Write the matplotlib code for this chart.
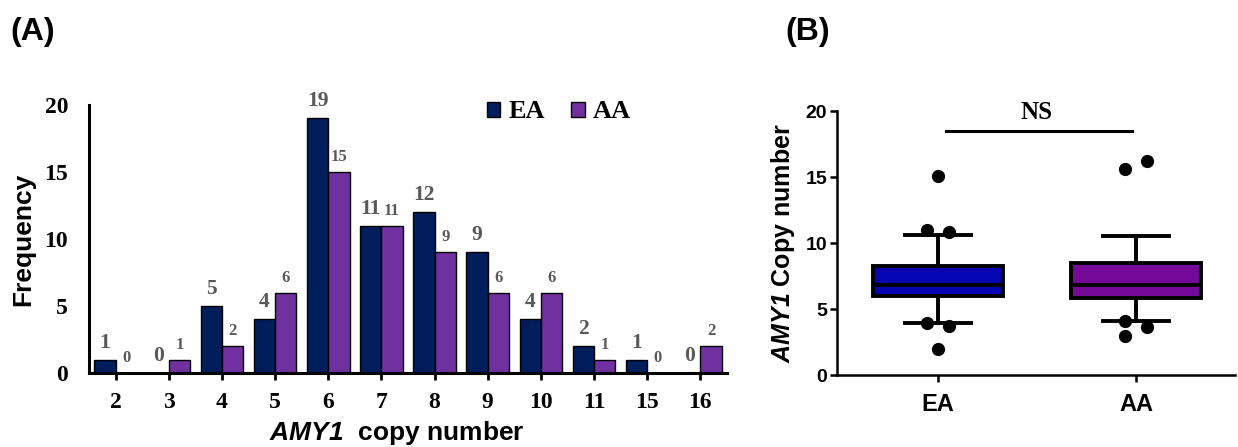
import matplotlib
matplotlib.use("Agg")
import matplotlib.pyplot as plt
from matplotlib.patches import Patch
import numpy as np

plt.rcParams['mathtext.fontset'] = 'custom'
plt.rcParams['mathtext.rm'] = 'Liberation Sans:italic:bold'
plt.rcParams['mathtext.it'] = 'Liberation Sans:italic:bold'

# ---------------- data ----------------
copy_numbers = ["2", "3", "4", "5", "6", "7", "8", "9", "10", "11", "15", "16"]
ea_freq = [1, 0, 5, 4, 19, 11, 12, 9, 4, 2, 1, 0]
aa_freq = [0, 1, 2, 6, 15, 11, 9, 6, 6, 1, 0, 2]

groups = ["EA", "AA"]
box_q1 = [5.95, 5.85]
box_med = [6.85, 6.8]
box_q3 = [8.25, 8.45]
whisk_lo = [3.97, 4.1]
whisk_hi = [10.6, 10.55]
ea_outliers = [15.1, 11.0, 10.8, 3.95, 3.7, 2.0]
aa_outliers = [15.6, 16.2, 4.1, 3.6, 2.95]
ns_level = 18.5

# ---------------- style ----------------
W, H = 1238, 447
c_ea = "#001d5c"
c_aa = "#7030a0"
box_cols = ["#0505b4", "#760a98"]
lbl_gray = "#595959"
ea_off = [0.0, -0.055, 0.055, -0.055, 0.055, 0.0]
aa_off = [-0.055, 0.055, -0.055, 0.055, -0.055]

fig = plt.figure(figsize=(W / 100, H / 100), dpi=100)

def fax(l, t, r, b):
    return fig.add_axes([l / W, 1 - b / H, (r - l) / W, (b - t) / H])

serif = "Liberation Serif"
sans = "Liberation Sans"

# ---------------- panel A ----------------
ax = fax(89, 105, 727, 373)
x = np.arange(len(copy_numbers))
bw = 0.4
ax.bar(x - bw / 2, ea_freq, bw, color=c_ea, edgecolor="black", linewidth=1.0, zorder=2)
ax.bar(x + bw / 2, aa_freq, bw, color=c_aa, edgecolor="black", linewidth=1.0, zorder=2)
for xi, v in zip(x, ea_freq):
    ax.annotate(str(v), (xi - bw / 2, v), xytext=(0, 5), textcoords="offset points",
                ha="center", va="bottom", fontsize=15.5, fontweight="bold",
                family=serif, color=lbl_gray)
for xi, v in zip(x, aa_freq):
    ax.annotate(str(v), (xi + bw / 2, v), xytext=(0, 5), textcoords="offset points",
                ha="center", va="bottom", fontsize=12, fontweight="bold",
                family=serif, color=lbl_gray)
ax.set_xlim(-0.5, 11.5)
ax.set_ylim(0, 20)
ax.set_xticks(x)
ax.set_xticklabels(copy_numbers, family=serif, fontweight="bold", fontsize=17)
ax.set_yticks([0, 5, 10, 15, 20])
ax.set_yticklabels(["0", "5", "10", "15", "20"], family=serif, fontweight="bold", fontsize=17)
ax.tick_params(axis="y", length=0, pad=15)
ax.tick_params(axis="x", direction="out", length=5, width=2, pad=9)
for s in ["top", "right"]:
    ax.spines[s].set_visible(False)
ax.spines["left"].set_linewidth(2.2)
ax.spines["bottom"].set_linewidth(2.2)
ax.set_xlabel(r"$\mathrm{AMY1}$  copy number", family=sans, fontweight="bold",
              fontsize=19, labelpad=6)
ax.xaxis.set_label_coords(0.482, -0.17)
ax.xaxis.label.set_va("top")
ax.set_ylabel("Frequency", family=sans, fontweight="bold", fontsize=19)
ax.yaxis.set_label_coords(-0.084, 0.5)
handles = [Patch(facecolor=c_ea, edgecolor="black", label="EA"),
           Patch(facecolor=c_aa, edgecolor="black", label="AA")]
ax.legend(handles=handles, loc="center", bbox_to_anchor=(559 / W, 1 - 112 / H),
          bbox_transform=fig.transFigure, ncol=2, frameon=False,
          prop={"family": serif, "weight": "bold", "size": 19},
          handlelength=0.5, handleheight=0.5, handletextpad=0.3, columnspacing=1.0)

fig.text(10 / W, 1 - 40 / H, "(A)", family=sans, fontweight="bold", fontsize=23,
         ha="left", va="baseline")

# ---------------- panel B ----------------
bx = fax(837, 111, 1235, 375)
pos = [1, 2]
stats = []
for i, g in enumerate(groups):
    stats.append(dict(label=g, q1=box_q1[i], med=box_med[i], q3=box_q3[i],
                      whislo=whisk_lo[i], whishi=whisk_hi[i], fliers=[]))
bp = bx.bxp(stats, positions=pos, widths=0.66, patch_artist=True, showfliers=False,
            capwidths=0.33,
            boxprops=dict(linewidth=2.8, edgecolor="black"),
            medianprops=dict(color="black", linewidth=2.8),
            whiskerprops=dict(color="black", linewidth=2.8),
            capprops=dict(color="black", linewidth=2.8))
for patch, c in zip(bp["boxes"], box_cols):
    patch.set_facecolor(c)
bx.plot(np.array(ea_off) + pos[0], ea_outliers, "o", color="black", ms=8.5, zorder=5)
bx.plot(np.array(aa_off) + pos[1], aa_outliers, "o", color="black", ms=8.5, zorder=5)
bx.plot([1.04, 1.98], [ns_level, ns_level], color="black", lw=2.2)
bx.text(1.5, 19.0, "NS", family=serif, fontweight="bold", fontsize=18,
        ha="center", va="bottom")
bx.set_xlim(0.49, 2.5)
bx.set_ylim(0, 20)
bx.set_yticks([0, 5, 10, 15, 20])
bx.set_yticklabels(["0", "5", "10", "15", "20"], family=sans, fontweight="bold", fontsize=14)
bx.set_xticks(pos)
bx.set_xticklabels(groups, family=sans, fontweight="bold", fontsize=17)
bx.tick_params(axis="both", direction="out", length=5, width=1.8)
bx.tick_params(axis="x", pad=8)
bx.tick_params(axis="y", pad=2)
for s in ["top", "right"]:
    bx.spines[s].set_visible(False)
bx.spines["left"].set_linewidth(1.8)
bx.spines["bottom"].set_linewidth(1.8)
bx.set_ylabel(r"$\mathrm{AMY1}$ Copy number", family=sans, fontweight="bold",
              fontsize=18, labelpad=6)
fig.text(785 / W, 1 - 40 / H, "(B)", family=sans, fontweight="bold", fontsize=23,
         ha="left", va="baseline")

fig.savefig("out.png", dpi=100)
